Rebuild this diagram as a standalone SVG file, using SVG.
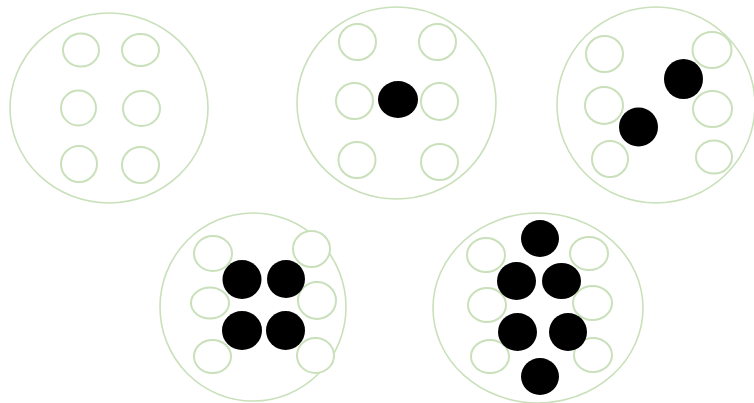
<svg xmlns="http://www.w3.org/2000/svg" width="754" height="403" viewBox="0 0 754 403">
<style>
.big{fill:none;stroke:#c9e0bb;stroke-width:1.6}
.o{fill:#fff;stroke:#c9e0bb;stroke-width:2}
.b{fill:#000}
</style>
<rect width="754" height="403" fill="#fff"/>
<g id="dish1">
<ellipse class="big" cx="109" cy="108" rx="99" ry="95"/>
<ellipse class="o" cx="81" cy="50" rx="18" ry="16.5"/>
<ellipse class="o" cx="140.5" cy="50" rx="18.5" ry="16"/>
<ellipse class="o" cx="78.5" cy="108" rx="17.5" ry="17.5"/>
<ellipse class="o" cx="141.5" cy="108.5" rx="18.5" ry="17.5"/>
<ellipse class="o" cx="79" cy="164" rx="18" ry="18"/>
<ellipse class="o" cx="140.5" cy="165" rx="18.5" ry="18"/>
</g>
<g id="dish2">
<ellipse class="big" cx="396.5" cy="103" rx="99.5" ry="96"/>
<ellipse class="o" cx="357.5" cy="42" rx="18.5" ry="18"/>
<ellipse class="o" cx="437.5" cy="42" rx="18.5" ry="18"/>
<ellipse class="o" cx="354.5" cy="101" rx="18.5" ry="18"/>
<ellipse class="b" cx="398" cy="99.5" rx="20" ry="18.5"/>
<ellipse class="o" cx="439.5" cy="101.5" rx="18.5" ry="18.5"/>
<ellipse class="o" cx="357" cy="160" rx="18.5" ry="18"/>
<ellipse class="o" cx="439.5" cy="162" rx="18.5" ry="18"/>
</g>
<g id="dish3">
<ellipse class="big" cx="656" cy="105" rx="99" ry="98"/>
<ellipse class="o" cx="604.5" cy="54" rx="18.5" ry="18"/>
<ellipse class="o" cx="712" cy="50" rx="19.5" ry="18"/>
<ellipse class="o" cx="604" cy="105.5" rx="19" ry="18.5"/>
<ellipse class="o" cx="712.5" cy="109" rx="19.5" ry="18"/>
<ellipse class="o" cx="610" cy="159" rx="18" ry="18"/>
<ellipse class="o" cx="714" cy="157" rx="18" ry="16.5"/>
<ellipse class="b" cx="683.5" cy="79" rx="19.5" ry="20"/>
<ellipse class="b" cx="638.5" cy="127" rx="19.5" ry="19.5"/>
</g>
<g id="dish4">
<ellipse class="big" cx="253" cy="307" rx="93" ry="94"/>
<ellipse class="o" cx="213" cy="253.5" rx="19" ry="17.5"/>
<ellipse class="o" cx="311.5" cy="249" rx="18.5" ry="18"/>
<ellipse class="o" cx="210" cy="303" rx="19" ry="15.5"/>
<ellipse class="o" cx="317" cy="300.5" rx="19" ry="18.5"/>
<ellipse class="o" cx="212.5" cy="356.5" rx="18.5" ry="16.5"/>
<ellipse class="o" cx="315.5" cy="355.5" rx="18.5" ry="17.5"/>
<ellipse class="b" cx="242" cy="279.5" rx="19.5" ry="19.5"/>
<ellipse class="b" cx="286" cy="279" rx="19" ry="19"/>
<ellipse class="b" cx="242" cy="330.5" rx="20" ry="19.5"/>
<ellipse class="b" cx="285.5" cy="330.5" rx="19.5" ry="19.5"/>
</g>
<g id="dish5">
<ellipse class="big" cx="538" cy="308" rx="105" ry="95"/>
<ellipse class="o" cx="486" cy="255" rx="19" ry="17"/>
<ellipse class="o" cx="589" cy="253.5" rx="19" ry="16.5"/>
<ellipse class="o" cx="487" cy="305" rx="19" ry="17"/>
<ellipse class="o" cx="592.5" cy="303" rx="19.5" ry="17"/>
<ellipse class="o" cx="490" cy="356.5" rx="19" ry="16.5"/>
<ellipse class="o" cx="593" cy="355" rx="19" ry="17"/>
<ellipse class="b" cx="540" cy="238.5" rx="19" ry="18.5"/>
<ellipse class="b" cx="516.5" cy="281" rx="19.5" ry="19"/>
<ellipse class="b" cx="561.5" cy="281" rx="19.5" ry="18"/>
<ellipse class="b" cx="517.5" cy="332" rx="19.5" ry="19"/>
<ellipse class="b" cx="568" cy="332" rx="19" ry="19"/>
<ellipse class="b" cx="540" cy="376.5" rx="19" ry="18.5"/>
</g>
</svg>
